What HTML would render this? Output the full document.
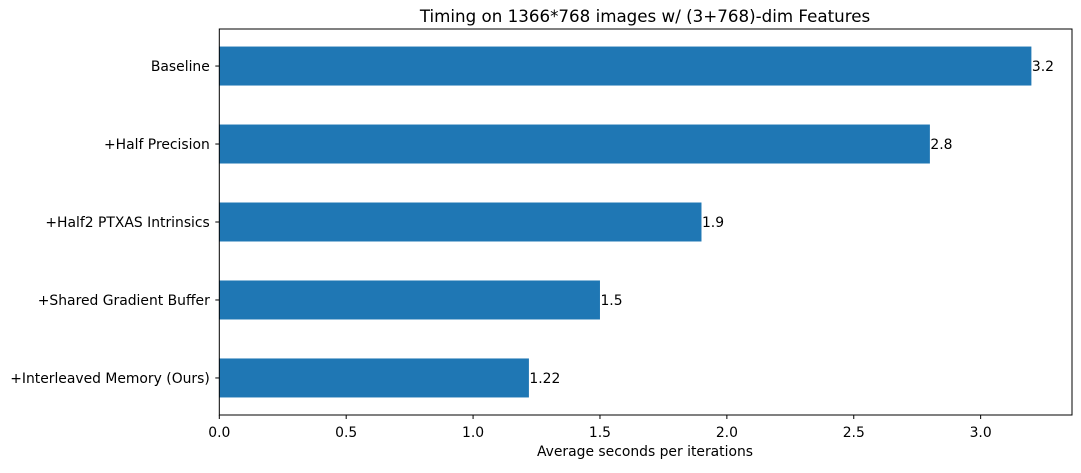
<!DOCTYPE html>
<html><head><meta charset="utf-8"><style>
body{margin:0;background:#fff;}
svg{font-family:"DejaVu Sans","Liberation Sans",sans-serif;}
</style></head><body>
<svg id="chart" width="1081" height="468">
<text x="645" y="22" font-size="16.7" text-anchor="middle">Timing on 1366*768 images w/ (3+768)-dim Features</text>
<text x="645" y="456" font-size="13.9" text-anchor="middle">Average seconds per iterations</text>
<g id="marks"></g>
</svg>
<script>
const categories=["Baseline","+Half Precision","+Half2 PTXAS Intrinsics","+Shared Gradient Buffer","+Interleaved Memory (Ours)"];
const values=[3.2,2.8,1.9,1.5,1.22];
const labels=["3.2","2.8","1.9","1.5","1.22"];
const xticks=[0,0.5,1,1.5,2,2.5,3];
const tickLabels=["0.0","0.5","1.0","1.5","2.0","2.5","3.0"];
const L=219.3,R=1072,T=29,B=415;
const xmax=Math.max(...values)*1.05;
const x=v=>L+v/xmax*(R-L);
const n=categories.length;
const lo=-0.475,hi=n-1+0.475;
const y=i=>T+(i-lo)/(hi-lo)*(B-T);
const bw=0.5*(B-T)/(hi-lo);
const g=document.getElementById('marks');
const NS="http://www.w3.org/2000/svg";
function mk(t,a){const e=document.createElementNS(NS,t);for(const k in a)e.setAttribute(k,a[k]);g.appendChild(e);return e;}
categories.forEach((c,i)=>{
 const r=mk('rect',{x:L,y:y(i)-bw/2,width:x(values[i])-L,height:bw,fill:'#1f77b4'});
 
 
 const vt=mk('text',{x:x(values[i])+0.5,y:y(i)+5,'font-size':13.9});
 vt.textContent=labels[i];
 
 
 const tk=mk('line',{x1:L-4,x2:L,y1:y(i),y2:y(i),stroke:'#000','stroke-width':1});
 
 
 const lt=mk('text',{x:L-9.5,y:y(i)+5,'font-size':13.9,'text-anchor':'end'});
 lt.textContent=c;
 
 
});
xticks.forEach((v,i)=>{
 const tk=mk('line',{x1:x(v),x2:x(v),y1:B,y2:B+4,stroke:'#000','stroke-width':1});
 
 
 const t=mk('text',{x:x(v),y:B+22,'font-size':13.9,'text-anchor':'middle'});
 t.textContent=tickLabels[i];
 
 
});
const ax=mk('rect',{x:L,y:T,width:R-L,height:B-T,fill:'none',stroke:'#000','stroke-width':1});


</script>
</body></html>
